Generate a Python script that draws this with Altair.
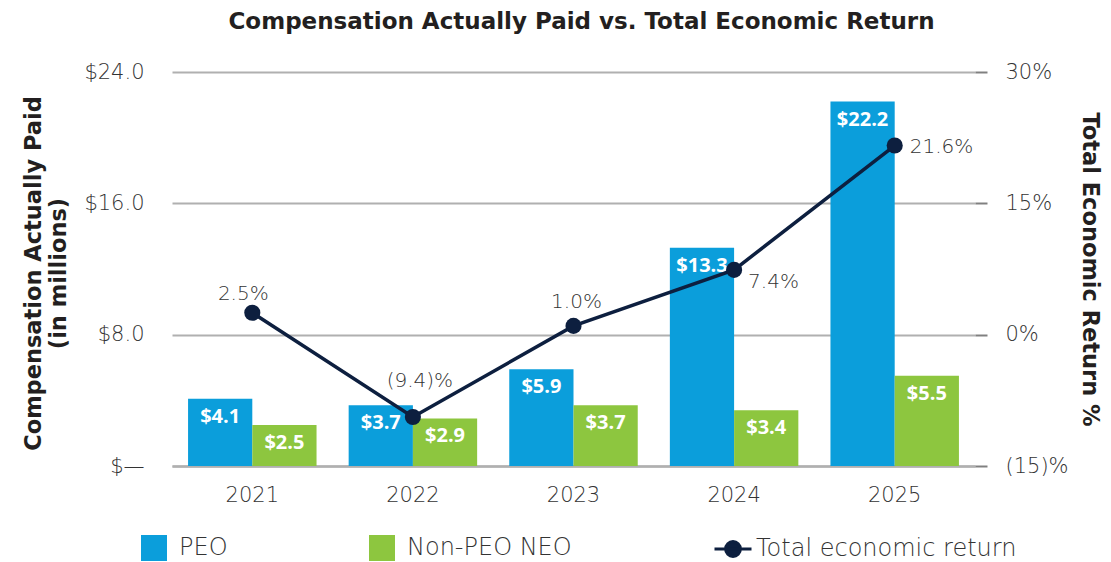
import altair as alt
import pandas as pd

years = ["2021", "2022", "2023", "2024", "2025"]
peo = [4.1, 3.7, 5.9, 13.3, 22.2]
neo = [2.5, 2.9, 3.7, 3.4, 5.5]
ter = [2.5, -9.4, 1.0, 7.4, 21.6]
series_names = ["PEO", "Non-PEO NEO"]
line_name = "Total economic return"
left_ticks = [0, 8, 16, 24]
right_ticks = [-15, 0, 15, 30]

BLUE = "#0b9edb"
GREEN = "#8dc63f"
NAVY = "#0d1f3f"
TXT = "#333333"
GRID = "#b0b0b0"
FONT = "DejaVu Sans"
BFONT = "Open Sans"
LW = 300

rows = []
for y, a, b in zip(years, peo, neo):
    rows.append({"year": y, "series": series_names[0], "value": a, "label": f"${a:.1f}"})
    rows.append({"year": y, "series": series_names[1], "value": b, "label": f"${b:.1f}"})
bars_df = pd.DataFrame(rows)


def pct(v):
    return f"({abs(v):.1f})%" if v < 0 else f"{v:.1f}%"


line_df = pd.DataFrame({"year": years, "ter": ter, "label": [pct(v) for v in ter],
                        "series": [line_name] * len(years)})

xscale = alt.Scale(domain=years, paddingInner=0.2, paddingOuter=0.1)
xaxis = alt.Axis(title=None, labelAngle=0, labelFontSize=21, labelFont=FONT, labelFontWeight=LW,
                 labelColor=TXT, labelPadding=18, ticks=False, domain=True,
                 domainColor=GRID, domainWidth=2.5)
X = alt.X("year:N", scale=xscale, axis=xaxis)

left_axis = alt.Axis(
    values=left_ticks, grid=True, gridColor=GRID, gridWidth=2, ticks=False, domain=False,
    labelExpr="datum.value == 0 ? '$\u2014' : '$' + format(datum.value, '.1f')",
    labelFontSize=21, labelFont=FONT, labelFontWeight=LW, labelColor=TXT, labelPadding=28,
    title=["Compensation Actually Paid", "(in millions)"], titleFont=FONT, titleFontSize=22.5,
    titleFontWeight="bold", titleColor="#231f20", titleAngle=-90, titleAlign="center",
    titleBaseline="middle", titleX=-139, titleY=201, titleLineHeight=25,
)
YL = alt.Y("value:Q", scale=alt.Scale(domain=[0, 24], nice=False, zero=True), axis=left_axis)

right_axis = alt.Axis(
    orient="right", values=right_ticks, grid=False, ticks=True, tickSize=12, tickColor="#808080",
    tickWidth=2, domain=False,
    labelExpr="datum.value < 0 ? '(' + abs(datum.value) + ')%' : datum.value + '%'",
    labelFontSize=21, labelFont=FONT, labelFontWeight=LW, labelColor=TXT, labelPadding=18,
    title="Total Economic Return %", titleFont=FONT, titleFontSize=22.5, titleFontWeight="bold",
    titleColor="#231f20", titleAngle=90, titleAlign="center", titleBaseline="middle",
    titleX=114, titleY=197,
)
YR = alt.Y("ter:Q", scale=alt.Scale(domain=[-15, 30], nice=False, zero=False), axis=right_axis)

XO = alt.XOffset("series:N", sort=series_names,
                 scale=alt.Scale(domain=series_names, paddingInner=0, paddingOuter=0))

bars = alt.Chart(bars_df).mark_bar().encode(
    x=X, xOffset=XO, y=YL,
    color=alt.Color("series:N", scale=alt.Scale(domain=series_names, range=[BLUE, GREEN]),
                    legend=alt.Legend(title=None, orient="none", legendX=-31, legendY=463,
                                      direction="horizontal", columns=2, symbolType="square",
                                      symbolSize=676, symbolStrokeWidth=0, labelFont=FONT,
                                      labelFontWeight=LW, labelFontSize=24, labelColor=TXT,
                                      labelOffset=12, columnPadding=141, labelLimit=400)),
)
bar_text = alt.Chart(bars_df).mark_text(baseline="middle", dy=18, color="white", font=BFONT,
                                        fontWeight="bold", fontSize=20).encode(
    x=X, xOffset=XO, y=YL, text="label:N",
)
left = alt.layer(bars, bar_text)

legend_path = "M-1,0L1,0M0.4,0A0.4,0.4,0,1,1,-0.4,0A0.4,0.4,0,1,1,0.4,0Z"
line = alt.Chart(line_df).mark_line(strokeWidth=3.5).encode(
    x=X, y=YR,
    stroke=alt.Stroke("series:N", scale=alt.Scale(domain=[line_name], range=[NAVY]),
                      legend=alt.Legend(title=None, orient="none", legendX=541, legendY=457,
                                        symbolType=legend_path, symbolSize=1369,
                                        symbolStrokeWidth=3, symbolFillColor=NAVY,
                                        labelFont=FONT, labelFontWeight=LW, labelFontSize=24,
                                        labelColor=TXT, labelOffset=3, labelLimit=400)),
)
points = alt.Chart(line_df).mark_circle(size=260, color=NAVY, opacity=1).encode(x=X, y=YR)

label_style = dict(font=FONT, fontWeight=LW, fontSize=20, color=TXT)
lab_a = alt.Chart(line_df).transform_filter(
    alt.FieldOneOfPredicate(field="year", oneOf=["2021"])
).mark_text(baseline="middle", dy=-19, dx=-9, **label_style).encode(x=X, y=YR, text="label:N")
lab_a2 = alt.Chart(line_df).transform_filter(
    alt.FieldOneOfPredicate(field="year", oneOf=["2023"])
).mark_text(baseline="middle", dy=-24, dx=3, **label_style).encode(x=X, y=YR, text="label:N")
lab_b = alt.Chart(line_df).transform_filter(
    alt.FieldOneOfPredicate(field="year", oneOf=["2022"])
).mark_text(baseline="middle", dy=-36, dx=7, **label_style).encode(x=X, y=YR, text="label:N")
lab_c = alt.Chart(line_df).transform_filter(
    alt.FieldOneOfPredicate(field="year", oneOf=["2024"])
).mark_text(baseline="middle", align="left", dx=14, dy=12, **label_style).encode(x=X, y=YR, text="label:N")
lab_d = alt.Chart(line_df).transform_filter(
    alt.FieldOneOfPredicate(field="year", oneOf=["2025"])
).mark_text(baseline="middle", align="left", dx=15, dy=1, **label_style).encode(x=X, y=YR, text="label:N")

right = alt.layer(line, points, lab_a, lab_a2, lab_b, lab_c, lab_d)

chart = alt.layer(left, right).resolve_scale(y="independent").properties(
    width=803, height=394,
    title=alt.TitleParams("Compensation Actually Paid vs. Total Economic Return", font=FONT,
                          fontSize=23, fontWeight="bold", color="#231f20", anchor="middle",
                          offset=27, dx=8),
    autosize=alt.AutoSizeParams(type="none"),
    padding={"left": 164, "top": 64, "right": 128, "bottom": 96},
).configure_view(stroke=None)

chart.save("out.html", embed_options={"renderer": "svg", "actions": False})
